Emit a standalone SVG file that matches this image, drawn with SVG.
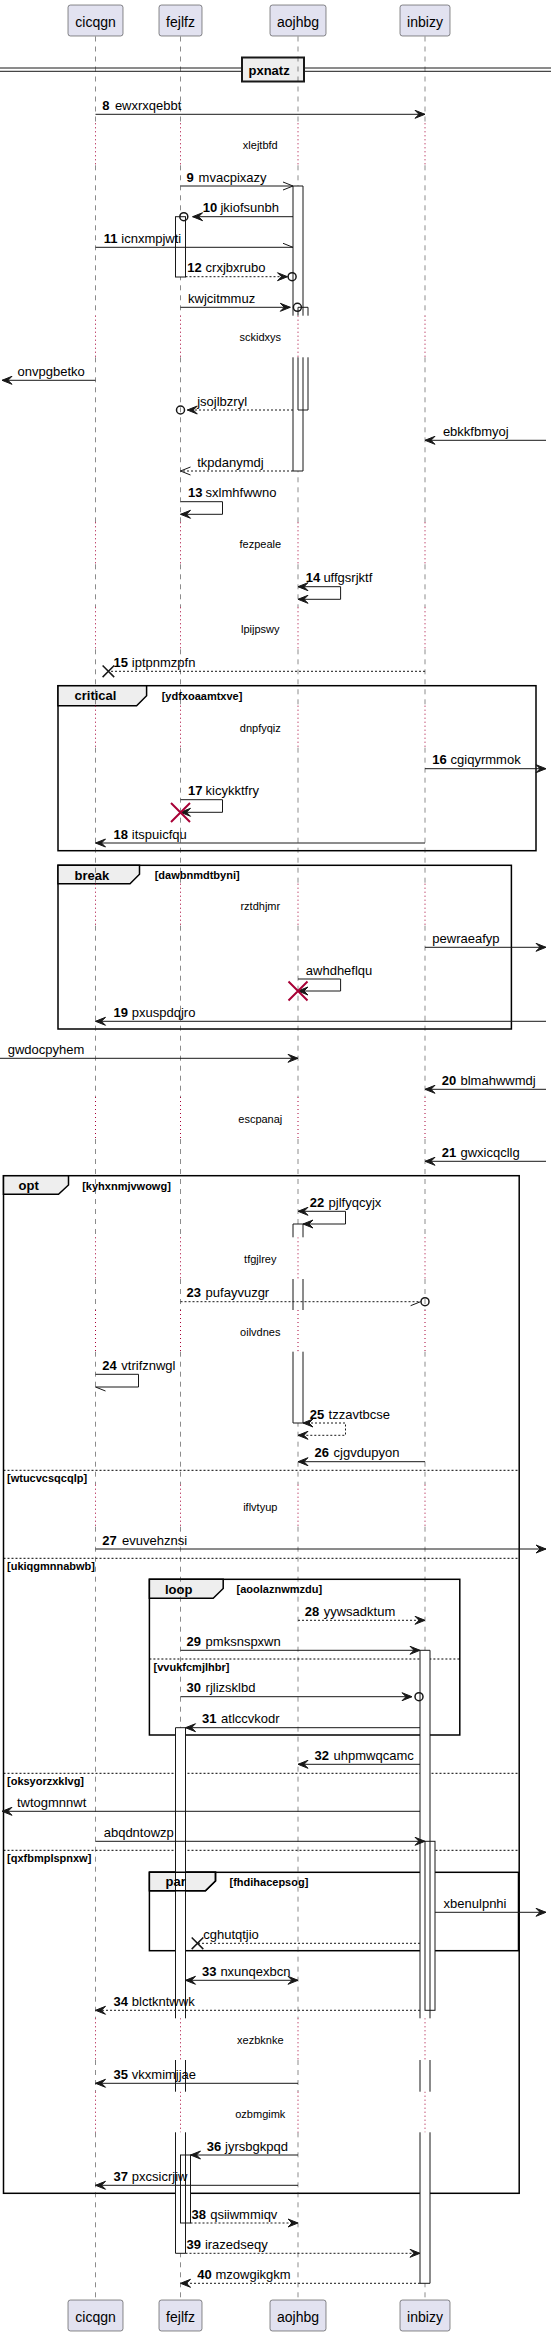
<svg xmlns="http://www.w3.org/2000/svg" width="551" height="2337" viewBox="0 0 551 2337">
<style>
text{font-family:"Liberation Sans",Arial,sans-serif;fill:#000}
.pb{fill:#E2E2F0;stroke:#181818;stroke-width:.5}
.pt{font-size:14px;text-anchor:middle}
.ll{fill:none;stroke:#181818;stroke-width:.5;stroke-dasharray:5,5}
.dl{fill:none;stroke:#A80036;stroke-width:1;stroke-dasharray:1,3}
.m{fill:none;stroke:#181818;stroke-width:1}
.d{stroke-dasharray:2,2}
.ah{fill:#181818;stroke:#181818;stroke-width:1}
.ci{fill:none;stroke:#181818;stroke-width:1.5}
.xx{stroke:#181818;stroke-width:1.5}
.rx{stroke:#A80036;stroke-width:2}
.n{font-size:13px;font-weight:bold}
.t{font-size:13px}
.dt{font-size:11px;text-anchor:middle}
.fr{fill:none;stroke:#000;stroke-width:1.5}
.tab{fill:#EEEEEE;stroke:#000;stroke-width:1.5}
.gl{font-size:13px;font-weight:bold}
.gc{font-size:11px;font-weight:bold}
.sep{stroke:#000;stroke-width:1;stroke-dasharray:2,2}
.af{fill:#fff;stroke:none}
.ao{fill:none;stroke:#181818;stroke-width:1}
</style>
<defs>
<path id="llD" d="M0,36.5V123.3M0,165.3V315.7M0,357.3V522.3M0,564.3V607.3M0,649.3V705.7M0,747.7V883.7M0,925.7V1097M0,1139V1237.3M0,1279V1310M0,1351.7V1484.7M0,1526.7V2018.3M0,2060V2091.7M0,2132.3V2300"/>
<path id="llT" d="M0,123.3V165.3M0,315.7V357.3M0,522.3V564.3M0,607.3V649.3M0,705.7V747.7M0,883.7V925.7M0,1097V1139M0,1237.3V1279M0,1310V1351.7M0,1484.7V1526.7M0,2018.3V2060M0,2091.7V2132.3"/>
</defs>
<rect width="551" height="2337" fill="#fff"/>

<g id="frames">
<rect class="fr" x="58" y="685.7" width="478" height="165"/>
<polygon class="tab" points="58,685.7 146.6,685.7 146.6,695.7 136.6,705.7 58,705.7"/>
<rect class="fr" x="58" y="865.3" width="453.4" height="163.7"/>
<polygon class="tab" points="58,865.3 139.5,865.3 139.5,874.3 130,883.7 58,883.7"/>
<rect class="fr" x="3.5" y="1175.7" width="515.7" height="1017.6"/>
<polygon class="tab" points="3.5,1175.7 68.5,1175.7 68.5,1185 58.5,1194.3 3.5,1194.3"/>
<line class="sep" x1="3.5" y1="1470.3" x2="519.2" y2="1470.3"/>
<line class="sep" x1="3.5" y1="1558.3" x2="519.2" y2="1558.3"/>
<line class="sep" x1="3.5" y1="1773.3" x2="519.2" y2="1773.3"/>
<line class="sep" x1="3.5" y1="1850.3" x2="519.2" y2="1850.3"/>
<rect class="fr" x="149.4" y="1579.3" width="310.4" height="155.7"/>
<polygon class="tab" points="149.4,1579.3 223.2,1579.3 223.2,1588.5 213.2,1598.3 149.4,1598.3"/>
<line class="sep" x1="149.4" y1="1659" x2="459.8" y2="1659"/>
<rect class="fr" x="149.4" y="1872.3" width="369.1" height="78.4"/>
<polygon class="tab" points="149.4,1872.3 215.5,1872.3 215.5,1881 205.5,1890.7 149.4,1890.7"/>
</g>

<g id="separator-pxnatz">
<line x1="0" y1="68" x2="551" y2="68" stroke="#181818" stroke-width="1"/>
<line x1="0" y1="71.3" x2="551" y2="71.3" stroke="#181818" stroke-width="1"/>
<rect x="242" y="57.5" width="62" height="24" fill="#EEEEEE" stroke="#181818" stroke-width="2"/>
<text class="gl" x="248.5" y="74.5">pxnatz</text>
</g>

<g id="lifelines">
<use href="#llD" x="95.5" class="ll"/><use href="#llT" x="95.5" class="dl"/>
<use href="#llD" x="180.5" class="ll"/><use href="#llT" x="180.5" class="dl"/>
<use href="#llD" x="298" class="ll"/><use href="#llT" x="298" class="dl"/>
<use href="#llD" x="425" class="ll"/><use href="#llT" x="425" class="dl"/>
</g>

<g id="delays">
<text class="dt" x="260.3" y="149.3">xlejtbfd</text>
<text class="dt" x="260.3" y="341.3">sckidxys</text>
<text class="dt" x="260.3" y="548.3">fezpeale</text>
<text class="dt" x="260.3" y="633.3">lpijpswy</text>
<text class="dt" x="260.3" y="731.7">dnpfyqiz</text>
<text class="dt" x="260.3" y="909.7">rztdhjmr</text>
<text class="dt" x="260.3" y="1123">escpanaj</text>
<text class="dt" x="260.3" y="1263.3">tfgjlrey</text>
<text class="dt" x="260.3" y="1336.3">oilvdnes</text>
<text class="dt" x="260.3" y="1510.7">iflvtyup</text>
<text class="dt" x="260.3" y="2044.3">xezbknke</text>
<text class="dt" x="260.3" y="2117.7">ozbmgimk</text>
</g>

<g id="activations">
<rect class="af" x="293" y="186" width="10" height="129.7"/><rect class="af" x="293" y="357.3" width="10" height="113.7"/>
<rect class="af" x="175.5" y="216.7" width="10" height="60.3"/>
<rect class="af" x="298" y="307.3" width="10" height="8.4"/><rect class="af" x="298" y="357.3" width="10" height="52.7"/>
<rect class="af" x="293" y="1224" width="10" height="13.3"/><rect class="af" x="293" y="1279" width="10" height="31"/><rect class="af" x="293" y="1351.7" width="10" height="71.3"/>
<rect class="af" x="420" y="1650.3" width="10" height="368"/><rect class="af" x="420" y="2060" width="10" height="31.7"/><rect class="af" x="420" y="2132.3" width="10" height="151"/>
<rect class="af" x="175.5" y="1727.7" width="10" height="290.6"/><rect class="af" x="175.5" y="2060" width="10" height="31.7"/><rect class="af" x="175.5" y="2132.3" width="10" height="121"/>
<rect class="af" x="425" y="1841.3" width="10" height="169"/>
<rect class="af" x="180.5" y="2155" width="10" height="68"/>
<path class="ao" d="M293,186H303M293,186V315.7M303,186V315.7M293,357.3V471M303,357.3V471M293,471H303"/>
<rect class="ao" x="175.5" y="216.7" width="10" height="60.3"/>
<path class="ao" d="M298,307.3H308M298,307.3V315.7M308,307.3V315.7M298,357.3V410M308,357.3V410M298,410H308"/>
<path class="ao" d="M293,1224H303M293,1224V1237.3M303,1224V1237.3M293,1279V1310M303,1279V1310M293,1351.7V1423M303,1351.7V1423M293,1423H303"/>
<path class="ao" d="M420,1650.3H430M420,1650.3V2018.3M430,1650.3V2018.3M420,2060V2091.7M430,2060V2091.7M420,2132.3V2283.3M430,2132.3V2283.3M420,2283.3H430"/>
<path class="ao" d="M175.5,1727.7H185.5M175.5,1727.7V2018.3M185.5,1727.7V2018.3M175.5,2060V2091.7M185.5,2060V2091.7M175.5,2132.3V2253.3M185.5,2132.3V2253.3M175.5,2253.3H185.5"/>
<rect class="ao" x="425" y="1841.3" width="10" height="169"/>
<rect class="ao" x="180.5" y="2155" width="10" height="68"/>
</g>

<g id="frame-labels">
<text class="gl" x="74.5" y="700">critical</text>
<text class="gc" x="161.7" y="699.5">[ydfxoaamtxve]</text>
<text class="gl" x="74.5" y="879.5">break</text>
<text class="gc" x="154.7" y="879">[dawbnmdtbyni]</text>
<text class="gl" x="18.6" y="1190">opt</text>
<text class="gc" x="82.2" y="1189.5">[kyhxnmjvwowg]</text>
<text class="gc" x="7" y="1481.5">[wtucvcsqcqlp]</text>
<text class="gc" x="7" y="1569.5">[ukiqgmnnabwb]</text>
<text class="gc" x="7" y="1784.5">[oksyorzxklvg]</text>
<text class="gc" x="7" y="1861.5">[qxfbmplspnxw]</text>
<text class="gl" x="164.9" y="1593.5">loop</text>
<text class="gc" x="236.6" y="1593">[aoolaznwmzdu]</text>
<text class="gc" x="153.6" y="1670.5">[vvukfcmjlhbr]</text>
<path d="M149.4,1872.3H215.5V1881L205.5,1890.7H149.4" fill="none" stroke="#000" stroke-width="1.5"/>
<text class="gl" x="165.6" y="1886">par</text>
<text class="gc" x="229.5" y="1885.5">[fhdihacepsog]</text>
</g>

<g id="connectors">
<line class="m" x1="95.5" y1="114.3" x2="425" y2="114.3"/>
<polygon class="ah" points="425,114.3 415,110.3 419,114.3 415,118.3"/>
<text class="n" x="102.3" y="109.8">8</text><text class="t" x="114.9" y="109.8">ewxrxqebbt</text>

<line class="m" x1="180.5" y1="186" x2="293" y2="186"/>
<polyline class="m" points="283,182 293,186 283,190"/>
<text class="n" x="186.6" y="181.5">9</text><text class="t" x="198.6" y="181.5">mvacpixazy</text>

<line class="m" x1="293" y1="216.7" x2="192.6" y2="216.7"/>
<polygon class="ah" points="192.6,216.7 202.6,212.7 198.6,216.7 202.6,220.7"/>
<circle class="ci" cx="183.8" cy="216.7" r="4"/>
<text class="n" x="202.8" y="212.2">10</text><text class="t" x="220.4" y="212.2">jkiofsunbh</text>

<line class="m" x1="95.5" y1="247.3" x2="293" y2="247.3"/>
<line class="m" x1="283" y1="243.3" x2="293" y2="247.3"/>
<text class="n" x="103.7" y="242.8">11</text><text class="t" x="121.3" y="242.8">icnxmpjwti</text>

<line class="m d" x1="185.5" y1="276.7" x2="287.5" y2="276.7"/>
<polygon class="ah" points="287.5,276.7 277.5,272.7 281.5,276.7 277.5,280.7"/>
<circle class="ci" cx="292.1" cy="276.7" r="4"/>
<text class="n" x="187.3" y="272.2">12</text><text class="t" x="205.6" y="272.2">crxjbxrubo</text>

<line class="m" x1="180.5" y1="307.3" x2="290.3" y2="307.3"/>
<polygon class="ah" points="290.3,307.3 280.3,303.3 284.3,307.3 280.3,311.3"/>
<circle class="ci" cx="297.4" cy="307.3" r="4"/>
<text class="t" x="188" y="302.8">kwjcitmmuz</text>

<line class="m" x1="95.5" y1="380.3" x2="2" y2="380.3"/>
<polygon class="ah" points="2,380.3 12,376.3 8,380.3 12,384.3"/>
<text class="t" x="17.6" y="375.8">onvpgbetko</text>

<line class="m d" x1="293" y1="410" x2="187.3" y2="410"/>
<polygon class="ah" points="187.3,410 197.3,406 193.3,410 197.3,414"/>
<circle class="ci" cx="180.5" cy="410" r="4"/>
<text class="t" x="197.2" y="405.5">jsojlbzryl</text>

<line class="m" x1="546" y1="440.3" x2="425" y2="440.3"/>
<polygon class="ah" points="425,440.3 435,436.3 431,440.3 435,444.3"/>
<text class="t" x="442.9" y="435.8">ebkkfbmyoj</text>

<line class="m d" x1="293" y1="471" x2="180.5" y2="471"/>
<polyline class="m" points="190.5,467 180.5,471 190.5,475"/>
<text class="t" x="197.2" y="466.5">tkpdanymdj</text>

<path class="m" d="M180.5,501.7H222.5V514.3H180.5"/>
<polygon class="ah" points="180.5,514.3 190.5,510.3 186.5,514.3 190.5,518.3"/>
<text class="n" x="188" y="497.2">13</text><text class="t" x="205.6" y="497.2">sxlmhfwwno</text>

<path class="m" d="M298,586.7H340.6V599.3H298"/>
<polygon class="ah" points="298,586.7 308,582.7 304,586.7 308,590.7"/>
<polygon class="ah" points="298,599.3 308,595.3 304,599.3 308,603.3"/>
<text class="n" x="305.8" y="582.2">14</text><text class="t" x="323.4" y="582.2">uffgsrjktf</text>

<line class="m d" x1="425" y1="671.3" x2="108.4" y2="671.3"/>
<path class="xx" d="M102.6,665.5L114.2,677.1M102.6,677.1L114.2,665.5"/>
<text class="n" x="113.5" y="666.8">15</text><text class="t" x="131.8" y="666.8">iptpnmzpfn</text>

<line class="m" x1="425" y1="768.7" x2="546" y2="768.7"/>
<polygon class="ah" points="546,768.7 536,764.7 540,768.7 536,772.7"/>
<text class="n" x="432.3" y="764.2">16</text><text class="t" x="450.6" y="764.2">cgiqyrmmok</text>

<path class="m" d="M180.5,799.7H222.5V812.3H180.5"/>
<polygon class="ah" points="180.5,812.3 190.5,808.3 186.5,812.3 190.5,816.3"/>
<path class="rx" d="M171,803L190,822M171,822L190,803"/>
<text class="n" x="188" y="795.2">17</text><text class="t" x="205.6" y="795.2">kicykktfry</text>

<line class="m" x1="425" y1="843" x2="95.5" y2="843"/>
<polygon class="ah" points="95.5,843 105.5,839 101.5,843 105.5,847"/>
<text class="n" x="113.5" y="838.5">18</text><text class="t" x="131.8" y="838.5">itspuicfqu</text>

<line class="m" x1="425" y1="947.3" x2="546" y2="947.3"/>
<polygon class="ah" points="546,947.3 536,943.3 540,947.3 536,951.3"/>
<text class="t" x="432.3" y="942.8">pewraeafyp</text>

<path class="m" d="M298,979H340.6V991H298"/>
<polygon class="ah" points="298,991 308,987 304,991 308,995"/>
<path class="rx" d="M288.5,981.5L307.5,1000.5M288.5,1000.5L307.5,981.5"/>
<text class="t" x="305.8" y="974.5">awhdheflqu</text>

<line class="m" x1="546" y1="1021.3" x2="95.5" y2="1021.3"/>
<polygon class="ah" points="95.5,1021.3 105.5,1017.3 101.5,1021.3 105.5,1025.3"/>
<text class="n" x="113.5" y="1016.8">19</text><text class="t" x="131.8" y="1016.8">pxuspdqjro</text>

<line class="m" x1="0" y1="1058.3" x2="298" y2="1058.3"/>
<polygon class="ah" points="298,1058.3 288,1054.3 292,1058.3 288,1062.3"/>
<text class="t" x="7.7" y="1053.8">gwdocpyhem</text>

<line class="m" x1="546" y1="1089.3" x2="425" y2="1089.3"/>
<polygon class="ah" points="425,1089.3 435,1085.3 431,1089.3 435,1093.3"/>
<text class="n" x="441.8" y="1084.8">20</text><text class="t" x="460.5" y="1084.8">blmahwwmdj</text>

<line class="m" x1="546" y1="1161.3" x2="425" y2="1161.3"/>
<polygon class="ah" points="425,1161.3 435,1157.3 431,1161.3 435,1165.3"/>
<text class="n" x="441.8" y="1156.8">21</text><text class="t" x="460.5" y="1156.8">gwxicqcllg</text>

<path class="m" d="M298,1211.3H345.5V1224H303"/>
<polygon class="ah" points="298,1211.3 308,1207.3 304,1211.3 308,1215.3"/>
<polygon class="ah" points="303,1224 313,1220 309,1224 313,1228"/>
<text class="n" x="309.7" y="1206.8">22</text><text class="t" x="328.6" y="1206.8">pjlfyqcyjx</text>

<line class="m d" x1="180.5" y1="1301.7" x2="420.6" y2="1301.7"/>
<line class="m" x1="410.6" y1="1305.7" x2="420.6" y2="1301.7"/>
<circle class="ci" cx="425" cy="1301.7" r="4"/>
<text class="n" x="186.6" y="1297.2">23</text><text class="t" x="205.6" y="1297.2">pufayvuzgr</text>

<path class="m" d="M95.5,1374.3H138.5V1387H95.5"/>
<line class="m" x1="95.5" y1="1387" x2="105.5" y2="1391"/>
<text class="n" x="102.3" y="1369.8">24</text><text class="t" x="121.3" y="1369.8">vtrifznwgl</text>

<path class="m d" d="M303,1423H345.5V1435.3H298"/>
<polygon class="ah" points="303,1423 313,1419 309,1423 313,1427"/>
<polygon class="ah" points="298,1435.3 308,1431.3 304,1435.3 308,1439.3"/>
<text class="n" x="309.7" y="1418.5">25</text><text class="t" x="328.6" y="1418.5">tzzavtbcse</text>

<line class="m" x1="425" y1="1461.7" x2="298" y2="1461.7"/>
<polygon class="ah" points="298,1461.7 308,1457.7 304,1461.7 308,1465.7"/>
<text class="n" x="314.6" y="1457.2">26</text><text class="t" x="333.6" y="1457.2">cjgvdupyon</text>

<line class="m" x1="95.5" y1="1549" x2="546" y2="1549"/>
<polygon class="ah" points="546,1549 536,1545 540,1549 536,1553"/>
<text class="n" x="102.3" y="1544.5">27</text><text class="t" x="122" y="1544.5">evuvehznsi</text>

<line class="m d" x1="298" y1="1620.3" x2="425" y2="1620.3"/>
<polygon class="ah" points="425,1620.3 415,1616.3 419,1620.3 415,1624.3"/>
<text class="n" x="304.7" y="1615.8">28</text><text class="t" x="323.7" y="1615.8">yywsadktum</text>

<line class="m" x1="180.5" y1="1650.3" x2="420" y2="1650.3"/>
<polygon class="ah" points="420,1650.3 410,1646.3 414,1650.3 410,1654.3"/>
<text class="n" x="186.6" y="1645.8">29</text><text class="t" x="205.6" y="1645.8">pmksnspxwn</text>

<line class="m" x1="180.5" y1="1696.7" x2="412" y2="1696.7"/>
<polygon class="ah" points="412,1696.7 402,1692.7 406,1696.7 402,1700.7"/>
<circle class="ci" cx="419" cy="1696.7" r="4"/>
<text class="n" x="186.6" y="1692.2">30</text><text class="t" x="205.6" y="1692.2">rjlizsklbd</text>

<line class="m" x1="420" y1="1727.7" x2="185.5" y2="1727.7"/>
<polygon class="ah" points="185.5,1727.7 195.5,1723.7 191.5,1727.7 195.5,1731.7"/>
<text class="n" x="202.1" y="1723.2">31</text><text class="t" x="221.1" y="1723.2">atlccvkodr</text>

<line class="m" x1="420" y1="1764.3" x2="298" y2="1764.3"/>
<polygon class="ah" points="298,1764.3 308,1760.3 304,1764.3 308,1768.3"/>
<text class="n" x="314.6" y="1759.8">32</text><text class="t" x="333.6" y="1759.8">uhpmwqcamc</text>

<line class="m" x1="420" y1="1811.3" x2="2" y2="1811.3"/>
<polygon class="ah" points="2,1811.3 12,1807.3 8,1811.3 12,1815.3"/>
<text class="t" x="16.9" y="1806.8">twtogmnnwt</text>

<line class="m" x1="95.5" y1="1841.3" x2="425" y2="1841.3"/>
<polygon class="ah" points="425,1841.3 415,1837.3 419,1841.3 415,1845.3"/>
<text class="t" x="103.7" y="1836.8">abqdntowzp</text>

<line class="m" x1="435" y1="1912.3" x2="546" y2="1912.3"/>
<polygon class="ah" points="546,1912.3 536,1908.3 540,1912.3 536,1916.3"/>
<text class="t" x="443.6" y="1907.8">xbenulpnhi</text>

<line class="m d" x1="420" y1="1943.3" x2="197.5" y2="1943.3"/>
<path class="xx" d="M191.7,1937.5L203.3,1949.1M191.7,1949.1L203.3,1937.5"/>
<text class="t" x="203.2" y="1938.8">cghutqtjio</text>

<line class="m" x1="185.5" y1="1980.3" x2="298" y2="1980.3"/>
<polygon class="ah" points="185.5,1980.3 195.5,1976.3 191.5,1980.3 195.5,1984.3"/>
<polygon class="ah" points="298,1980.3 288,1976.3 292,1980.3 288,1984.3"/>
<text class="n" x="202.1" y="1975.8">33</text><text class="t" x="220.4" y="1975.8">nxunqexbcn</text>

<line class="m d" x1="420" y1="2010.3" x2="95.5" y2="2010.3"/>
<polygon class="ah" points="95.5,2010.3 105.5,2006.3 101.5,2010.3 105.5,2014.3"/>
<text class="n" x="113.5" y="2005.8">34</text><text class="t" x="131.8" y="2005.8">blctkntwwk</text>

<line class="m" x1="298" y1="2083.3" x2="95.5" y2="2083.3"/>
<polygon class="ah" points="95.5,2083.3 105.5,2079.3 101.5,2083.3 105.5,2087.3"/>
<text class="n" x="113.5" y="2078.8">35</text><text class="t" x="131.8" y="2078.8">vkxmimjjae</text>

<line class="m" x1="298" y1="2155" x2="190.5" y2="2155"/>
<polygon class="ah" points="190.5,2155 200.5,2151 196.5,2155 200.5,2159"/>
<text class="n" x="206.7" y="2150.5">36</text><text class="t" x="225" y="2150.5">jyrsbgkpqd</text>

<line class="m" x1="298" y1="2185.3" x2="95.5" y2="2185.3"/>
<polygon class="ah" points="95.5,2185.3 105.5,2181.3 101.5,2185.3 105.5,2189.3"/>
<text class="n" x="113.5" y="2180.8">37</text><text class="t" x="131.8" y="2180.8">pxcsicrjiw</text>

<line class="m d" x1="190.5" y1="2223" x2="298" y2="2223"/>
<polygon class="ah" points="298,2223 288,2219 292,2223 288,2227"/>
<text class="n" x="191.6" y="2218.5">38</text><text class="t" x="210.2" y="2218.5">qsiiwmmiqv</text>

<line class="m d" x1="185.5" y1="2253.3" x2="420" y2="2253.3"/>
<polygon class="ah" points="420,2253.3 410,2249.3 414,2253.3 410,2257.3"/>
<text class="n" x="186.6" y="2248.8">39</text><text class="t" x="204.9" y="2248.8">irazedseqy</text>

<line class="m d" x1="420" y1="2283.3" x2="180.5" y2="2283.3"/>
<polygon class="ah" points="180.5,2283.3 190.5,2279.3 186.5,2283.3 190.5,2287.3"/>
<text class="n" x="197.2" y="2278.8">40</text><text class="t" x="215.5" y="2278.8">mzowgikgkm</text>
</g>

<g id="p-cicqgn">
<rect class="pb" x="68" y="5" width="55" height="31" rx="2.5"/><text class="pt" x="95.5" y="27">cicqgn</text>
<rect class="pb" x="68" y="2300" width="55" height="31" rx="2.5"/><text class="pt" x="95.5" y="2322">cicqgn</text>
</g>
<g id="p-fejlfz">
<rect class="pb" x="159" y="5" width="43" height="31" rx="2.5"/><text class="pt" x="180.5" y="27">fejlfz</text>
<rect class="pb" x="159" y="2300" width="43" height="31" rx="2.5"/><text class="pt" x="180.5" y="2322">fejlfz</text>
</g>
<g id="p-aojhbg">
<rect class="pb" x="270" y="5" width="56" height="31" rx="2.5"/><text class="pt" x="298" y="27">aojhbg</text>
<rect class="pb" x="270" y="2300" width="56" height="31" rx="2.5"/><text class="pt" x="298" y="2322">aojhbg</text>
</g>
<g id="p-inbizy">
<rect class="pb" x="400" y="5" width="50" height="31" rx="2.5"/><text class="pt" x="425" y="27">inbizy</text>
<rect class="pb" x="400" y="2300" width="50" height="31" rx="2.5"/><text class="pt" x="425" y="2322">inbizy</text>
</g>
</svg>
